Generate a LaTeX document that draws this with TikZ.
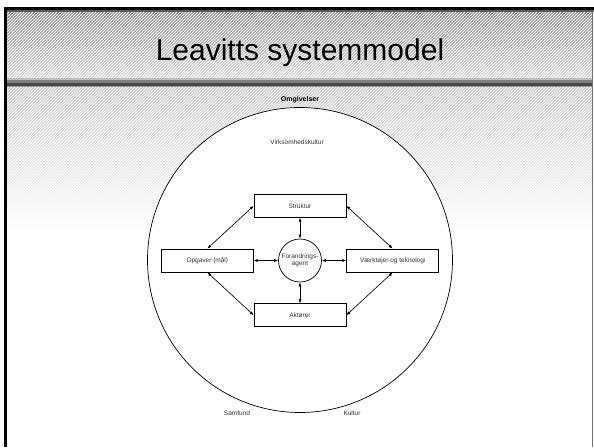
\documentclass[tikz,border=0pt]{standalone}
\usepackage{fontspec}
\setmainfont{Liberation Sans}
\usetikzlibrary{arrows.meta,patterns}

\begin{document}
\begin{tikzpicture}
[ x=1pt, y=-1pt, thin
, box/.style={rectangle, minimum width=92pt, minimum height=23pt, draw, line width=0.7pt, fill=white, text=black!80, font=\fontsize{6.5}{7.5}\selectfont}
, agent/.style={circle, minimum size=43pt, inner sep=0pt, draw, line width=0.7pt, fill=white, align=center, text=black!80, font=\fontsize{6.5}{7.5}\selectfont}
, envtext/.style={text=black!80, font=\fontsize{6.5}{7.5}\selectfont}
, link/.style={{Latex[length=4pt,width=3pt]}-{Latex[length=4pt,width=3pt]}, line width=0.65pt}
]
\useasboundingbox (0,0) rectangle (594,447);
% Slide background:
\fill[white] (0,0) rectangle (594,447);
\shade[top color=black!40, bottom color=black!13] (7,10) rectangle (593,78);
\shade[top color=black!19, bottom color=white] (7,87) rectangle (593,235);
\fill[pattern=north east lines, pattern color=white, fill opacity=0.15] (7,10) rectangle (593,78);
\fill[pattern=north east lines, pattern color=white, fill opacity=0.15] (7,87) rectangle (593,235);
\fill[black!25] (7,78) rectangle (593,80);
\fill[black!50] (7,80) rectangle (593,83);
\fill[black!72] (7,83) rectangle (593,86);
\fill[black!40] (7,86) rectangle (593,87);
\fill[black] (4,7) rectangle (7,447);
\fill[black] (4,7) rectangle (594,10);
\fill[black!65] (7,10) rectangle (594,12);
\fill[black!55] (592,10) rectangle (593,447);
\node (title) [anchor=base, font=\fontsize{30}{34}\selectfont] at (300,60.5) {Leavitts systemmodel};
% Environment:
\node (environment) [circle, minimum size=305pt, inner sep=0pt, draw, line width=0.7pt, fill=white] at (300,260) {};
\node (omgivelser) [font=\bfseries\fontsize{7}{8}\selectfont] at (300,100) {Omgivelser};
\node (culture) [envtext] at (297,142) {Virksomhedskultur};
\node (society) [envtext] at (237,413) {Samfund};
\node (kultur) [envtext] at (352,413) {Kultur};
\matrix (model) [row sep=21pt, column sep=0pt] at (300,260.5) {
% First row:
& \node (struktur) [box] {Struktur}; & \\
% Second row:
\node (opgaver) [box] {Opgaver (mål)}; &
\node (agent) [agent] {Forandrings-\\agent}; &
\node (tools) [box] {Værktøjer og teknologi}; \\
% Third row:
& \node (aktorer) [box] {Aktører}; & \\
};
\draw [link] (struktur) -- (agent);
\draw [link] (aktorer) -- (agent);
\draw [link] (opgaver) -- (agent);
\draw [link] (tools) -- (agent);
\draw [link] (struktur.west) -- (opgaver.north);
\draw [link] (struktur.east) -- (tools.north);
\draw [link] (aktorer.west) -- (opgaver.south);
\draw [link] (aktorer.east) -- (tools.south);
\end{tikzpicture}
\end{document}
